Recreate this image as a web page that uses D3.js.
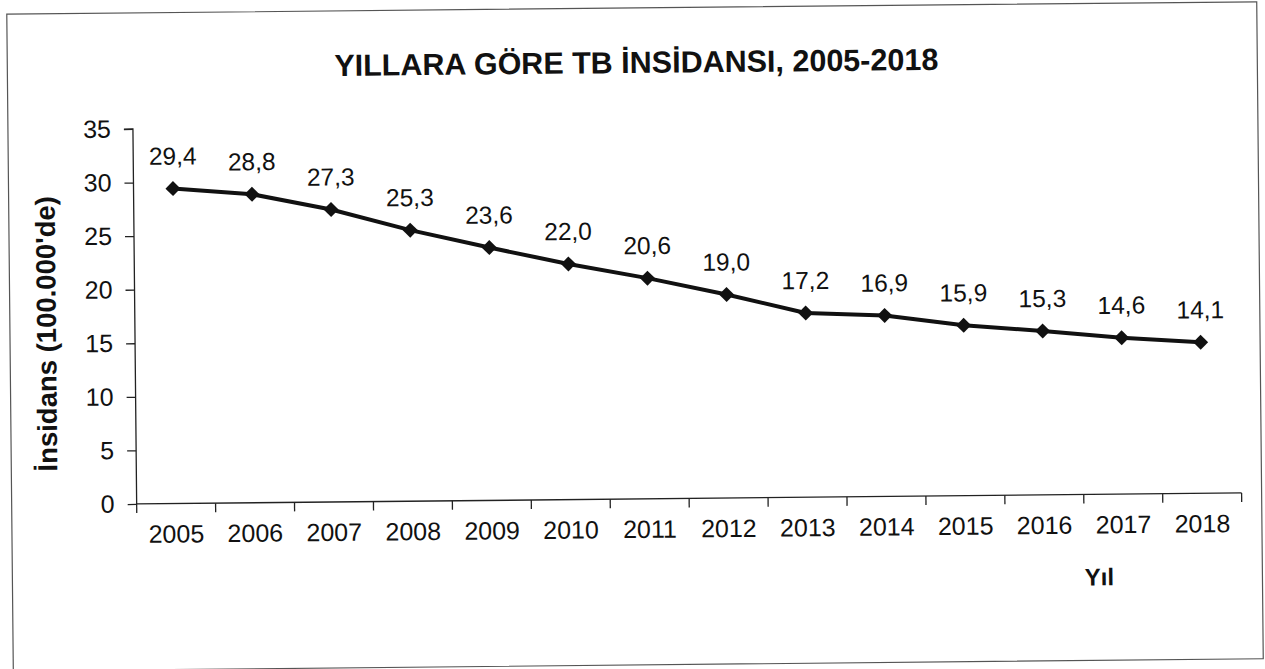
<!DOCTYPE html>
<html>
<head>
<meta charset="utf-8">
<script src="https://cdn.jsdelivr.net/npm/d3@7"></script>
<style>
html,body{margin:0;padding:0;background:#fff;}
svg{display:block;}
text{font-family:"Liberation Sans",Arial,sans-serif;fill:#111;}
</style>
</head>
<body>
<svg id="chart" width="1265" height="669"></svg>
<script>
const years = ["2005","2006","2007","2008","2009","2010","2011","2012","2013","2014","2015","2016","2017","2018"];
const incidence = [29.4, 28.8, 27.3, 25.3, 23.6, 22.0, 20.6, 19.0, 17.2, 16.9, 15.9, 15.3, 14.6, 14.1];
const valueLabels = ["29,4","28,8","27,3","25,3","23,6","22,0","20,6","19,0","17,2","16,9","15,9","15,3","14,6","14,1"];
const yTicks = [0, 5, 10, 15, 20, 25, 30, 35];
const titleText = "YILLARA GÖRE TB İNSİDANSI, 2005-2018";
const yAxisTitle = "İnsidans (100.000'de)";
const xAxisTitle = "Yıl";

(function(){
const svg = d3.select("#chart");
const W = 1265, H = 669;
svg.append("rect").attr("width", W).attr("height", H).attr("fill", "#fff");

// scanned page is slightly tilted
const g = svg.append("g").attr("transform", `rotate(-0.57 ${W/2} ${H/2})`);

// frame
g.append("rect").attr("x", 10).attr("y", 8).attr("width", 1250).attr("height", 657)
  .attr("fill", "none").attr("stroke", "#555").attr("stroke-width", 1.2);

const pL = 135, pR = 1240, pT = 124, pB = 499;
const x = d3.scaleBand().domain(years).range([pL, pR]).padding(0);
const y = d3.scaleLinear().domain([0, 35]).range([pB, pT]);

// y axis
const yAxis = d3.axisLeft(y).tickValues(yTicks).tickSize(9).tickPadding(13).tickFormat(d3.format("d"));
const ya = g.append("g").attr("transform", `translate(${pL},0)`).call(yAxis);
ya.select(".domain").attr("stroke", "#222").attr("stroke-width", 1.3).attr("d", `M-9,${pT}H0V${pB}`);
ya.selectAll(".tick line").attr("stroke", "#222").attr("stroke-width", 1.3);
ya.selectAll(".tick text").style("font-size", "25px").attr("fill", "#111").attr("font-family", "Liberation Sans, Arial, sans-serif");

// x axis with ticks at band edges
const xa = g.append("g").attr("transform", `translate(0,${pB})`);
xa.append("path").attr("d", `M${pL},0H${pR}`).attr("stroke", "#222").attr("stroke-width", 1.3).attr("fill", "none");
const edges = years.map(d => x(d)).concat([x(years[years.length-1]) + x.bandwidth()]);
xa.selectAll("line.edge").data(edges).join("line").attr("class", "edge")
  .attr("x1", d => d).attr("x2", d => d).attr("y1", 0).attr("y2", 9)
  .attr("stroke", "#222").attr("stroke-width", 1.3);
xa.selectAll("text.lbl").data(years).join("text").attr("class", "lbl")
  .attr("x", d => x(d) + x.bandwidth()/2).attr("y", 39)
  .attr("text-anchor", "middle").style("font-size", "25px").text(d => d);

const cx = d => x(d) + x.bandwidth()/2;

// line
const line = d3.line().x((d, i) => cx(years[i])).y(d => y(d));
g.append("path").datum(incidence).attr("d", line)
  .attr("fill", "none").attr("stroke", "#111").attr("stroke-width", 4).attr("stroke-linejoin", "round");

// diamond markers
g.selectAll("path.mk").data(incidence).join("path").attr("class", "mk")
  .attr("d", (d, i) => {
    const px = cx(years[i]), py = y(d), r = 7.5;
    return `M${px},${py-r}L${px+r},${py}L${px},${py+r}L${px-r},${py}Z`;
  })
  .attr("fill", "#111");

// data labels
g.selectAll("text.val").data(incidence).join("text").attr("class", "val")
  .attr("x", (d, i) => cx(years[i])).attr("y", d => y(d) - 24)
  .attr("text-anchor", "middle").style("font-size", "24.5px")
  .text((d, i) => valueLabels[i]);

// title
g.append("text").attr("x", 639).attr("y", 73).attr("text-anchor", "middle")
  .style("font-size", "30.5px").style("font-weight", "bold").text(titleText);

// y axis title
g.append("text").attr("transform", `translate(56,328) rotate(-90)`).attr("text-anchor", "middle")
  .style("font-size", "27.5px").style("font-weight", "bold").text(yAxisTitle);

// x axis title
g.append("text").attr("x", 1097).attr("y", 590).attr("text-anchor", "middle")
  .style("font-size", "24px").style("font-weight", "bold").text(xAxisTitle);
})();
</script>
</body>
</html>
